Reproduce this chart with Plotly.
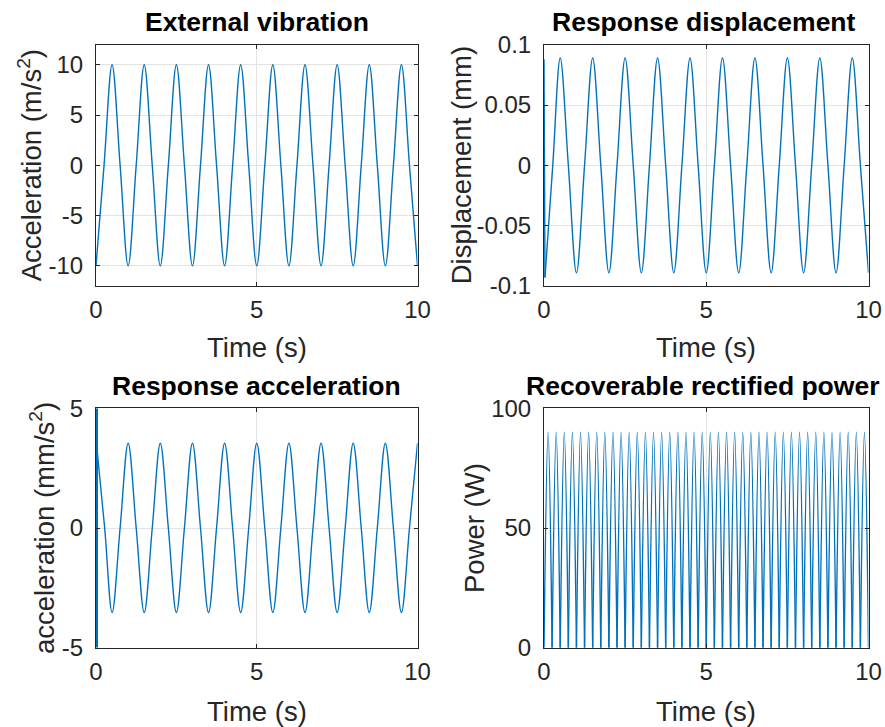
import plotly.graph_objects as go

# ---------------- data ----------------
# External vibration: samples at extrema and zero crossings
ext_time_s = [0, 0.25, 0.5, 0.75, 1, 1.25, 1.5, 1.75, 2, 2.25, 2.5, 2.75, 3, 3.25, 3.5, 3.75,
              4, 4.25, 4.5, 4.75, 5, 5.25, 5.5, 5.75, 6, 6.25, 6.5, 6.75, 7, 7.25, 7.5, 7.75,
              8, 8.25, 8.5, 8.75, 9, 9.25, 9.5, 9.75, 10]
ext_accel = [-10, 0, 10, 0, -10, 0, 10, 0, -10, 0, 10, 0, -10, 0, 10, 0,
             -10, 0, 10, 0, -10, 0, 10, 0, -10, 0, 10, 0, -10, 0, 10, 0,
             -10, 0, 10, 0, -10, 0, 10, 0, -10]

# Response displacement: initial transient + steady oscillation
disp_start_time_s = [0, 0.03]
disp_start_mm = [0.088, -0.093]
disp_time_s = [0.03, 0.27, 0.5, 0.75, 1, 1.25, 1.5, 1.75, 2, 2.25, 2.5, 2.75, 3, 3.25, 3.5, 3.75,
               4, 4.25, 4.5, 4.75, 5, 5.25, 5.5, 5.75, 6, 6.25, 6.5, 6.75, 7, 7.25, 7.5, 7.75,
               8, 8.25, 8.5, 8.75, 9, 9.25, 9.5, 9.75, 10]
disp_mm = [-0.093, 0, 0.089, 0, -0.089, 0, 0.089, 0, -0.089, 0, 0.089, 0, -0.089, 0, 0.089, 0,
           -0.089, 0, 0.089, 0, -0.089, 0, 0.089, 0, -0.089, 0, 0.089, 0, -0.089, 0, 0.089, 0,
           -0.089, 0, 0.089, 0, -0.089, 0, 0.089, 0, -0.089]

# Response acceleration: initial spike (clipped) + steady oscillation
acc_spike_time_s = [0, 0]
acc_spike_mm_s2 = [5, -5]
acc_time_s = [0.02, 0.27, 0.5, 0.75, 1, 1.25, 1.5, 1.75, 2, 2.25, 2.5, 2.75, 3, 3.25, 3.5, 3.75,
              4, 4.25, 4.5, 4.75, 5, 5.25, 5.5, 5.75, 6, 6.25, 6.5, 6.75, 7, 7.25, 7.5, 7.75,
              8, 8.25, 8.5, 8.75, 9, 9.25, 9.5, 9.75, 10]
acc_mm_s2 = [3.45, 0, -3.53, 0, 3.54, 0, -3.53, 0, 3.54, 0, -3.53, 0, 3.54, 0, -3.53, 0,
             3.54, 0, -3.53, 0, 3.54, 0, -3.53, 0, 3.54, 0, -3.53, 0, 3.54, 0, -3.53, 0,
             3.54, 0, -3.53, 0, 3.54, 0, -3.53, 0, 3.54]

# Recoverable rectified power: arch peaks and zero points
power_zero_time_s = [0, 0.25, 0.5, 0.75, 1, 1.25, 1.5, 1.75, 2, 2.25, 2.5, 2.75, 3, 3.25,
                     3.5, 3.75, 4, 4.25, 4.5, 4.75, 5, 5.25, 5.5, 5.75, 6, 6.25, 6.5, 6.75,
                     7, 7.25, 7.5, 7.75, 8, 8.25, 8.5, 8.75, 9, 9.25, 9.5, 9.75, 10]
power_peak_time_s = [0.125, 0.375, 0.625, 0.875, 1.125, 1.375, 1.625, 1.875, 2.125, 2.375,
                     2.625, 2.875, 3.125, 3.375, 3.625, 3.875, 4.125, 4.375, 4.625, 4.875,
                     5.125, 5.375, 5.625, 5.875, 6.125, 6.375, 6.625, 6.875, 7.125, 7.375,
                     7.625, 7.875, 8.125, 8.375, 8.625, 8.875, 9.125, 9.375, 9.625, 9.875]
power_peak_w = [90, 90, 90, 90, 90, 90, 90, 90, 90, 90, 90, 90, 90, 90, 90, 90, 90, 90, 90, 90,
                90, 90, 90, 90, 90, 90, 90, 90, 90, 90, 90, 90, 90, 90, 90, 90, 90, 90, 90, 90]

x_ticks = [0, 5, 10]
x_ticktext = ["0", "5", "10"]
ext_ticks = [-10, -5, 0, 5, 10]
ext_ticktext = ["-10", "-5", "0", "5", "10"]
disp_ticks = [-0.1, -0.05, 0, 0.05, 0.1]
disp_ticktext = ["-0.1", "-0.05", "0", "0.05", "0.1"]
acc_ticks = [-5, 0, 5]
acc_ticktext = ["-5", "0", "5"]
power_ticks = [0, 50, 100]
power_ticktext = ["0", "50", "100"]

# build the rectified-power arches (separate segments so the bottoms stay sharp)
pw_x, pw_y = [], []
for i, tp in enumerate(power_peak_time_s):
    pw_x += [power_zero_time_s[i], tp, power_zero_time_s[i + 1], None]
    pw_y += [0, power_peak_w[i], 0, None]

# ---------------- figure ----------------
W, H = 885, 727
BLUE = "#0072BD"
AX = "#262626"
GRID = "#e3e3e3"
FONT = "Liberation Sans, Arial, Helvetica, sans-serif"
TICK = 24
LABEL = 27.5
TITLE = 26.5

def px_x(p):
    return p / W

def px_y(p):
    return 1 - p / H

fig = go.Figure()
line = dict(color=BLUE, width=1.4)

fig.add_trace(go.Scatter(x=ext_time_s, y=ext_accel, mode="lines", line=dict(line, shape="spline", smoothing=1.0),
                         xaxis="x", yaxis="y"))
fig.add_trace(go.Scatter(x=disp_start_time_s, y=disp_start_mm, mode="lines", line=line,
                         xaxis="x2", yaxis="y2"))
fig.add_trace(go.Scatter(x=disp_time_s, y=disp_mm, mode="lines", line=dict(line, shape="spline", smoothing=1.0),
                         xaxis="x2", yaxis="y2"))
fig.add_trace(go.Scatter(x=acc_spike_time_s, y=acc_spike_mm_s2, mode="lines", line=dict(color=BLUE, width=4),
                         xaxis="x3", yaxis="y3"))
fig.add_trace(go.Scatter(x=acc_time_s, y=acc_mm_s2, mode="lines", line=dict(line, shape="spline", smoothing=1.0),
                         xaxis="x3", yaxis="y3"))
fig.add_trace(go.Scatter(x=pw_x, y=pw_y, mode="lines", line=dict(line, shape="spline", smoothing=1.0),
                         connectgaps=False, xaxis="x4", yaxis="y4"))

left_dom = [px_x(96), px_x(417.5)]
right_dom = [px_x(544), px_x(868.5)]
top_dom = [px_y(286), px_y(44.7)]
bot_dom = [px_y(647.7), px_y(408.3)]

def common():
    return dict(showgrid=True, gridcolor=GRID, gridwidth=1, zeroline=False,
                showline=True, linecolor=AX, linewidth=1, mirror="ticks",
                ticks="inside", ticklen=4, tickcolor=AX, tickwidth=1, automargin=False,
                tickfont=dict(family=FONT, size=TICK, color=AX))

def xax(dom, anchor):
    return dict(domain=dom, anchor=anchor, range=[0, 10], tickvals=x_ticks, ticktext=x_ticktext,
                ticklabelstandoff=2, **common())

def yax(dom, anchor, rng, tv, tt):
    return dict(domain=dom, anchor=anchor, range=rng, tickvals=tv, ticktext=tt,
                ticklabelstandoff=7, **common())

fig.update_layout(
    template="none",
    width=W, height=H, margin=dict(l=0, r=0, t=0, b=0, pad=0, autoexpand=False),
    paper_bgcolor="white", plot_bgcolor="white", showlegend=False,
    xaxis=xax(left_dom, "y"), yaxis=yax(top_dom, "x", [-12, 12], ext_ticks, ext_ticktext),
    xaxis2=xax(right_dom, "y2"), yaxis2=yax(top_dom, "x2", [-0.1, 0.1], disp_ticks, disp_ticktext),
    xaxis3=xax(left_dom, "y3"), yaxis3=yax(bot_dom, "x3", [-5, 5], acc_ticks, acc_ticktext),
    xaxis4=xax(right_dom, "y4"), yaxis4=yax(bot_dom, "x4", [0, 100], power_ticks, power_ticktext),
)

def ann(text, x, y, size=LABEL, bold=False, angle=0, color=AX):
    fig.add_annotation(text=f"<b>{text}</b>" if bold else text, x=px_x(x), y=px_y(y),
                       xref="paper", yref="paper", xanchor="center", yanchor="middle",
                       showarrow=False, textangle=angle,
                       font=dict(family=FONT, size=size, color=color))

# titles
ann("External vibration", 256.5, 22, size=TITLE, bold=True, color="black")
ann("Response displacement", 704, 22, size=TITLE, bold=True, color="black")
ann("Response acceleration", 256.5, 386, size=TITLE, bold=True, color="black")
ann("Recoverable rectified power", 702, 386, size=TITLE, bold=True, color="black")
# x labels
for xc, yc in [(256.5, 348), (706, 348), (256.5, 711), (706, 711)]:
    ann("Time (s)", xc, yc)
# y labels
ann("Acceleration (m/s<sup>2</sup>)", 30, 165.3, angle=-90)
ann("Displacement (mm)", 461, 165.3, angle=-90)
ann("acceleration (mm/s<sup>2</sup>)", 42, 528, angle=-90)
ann("Power (W)", 474, 528, angle=-90)

fig.write_html("out.html")
